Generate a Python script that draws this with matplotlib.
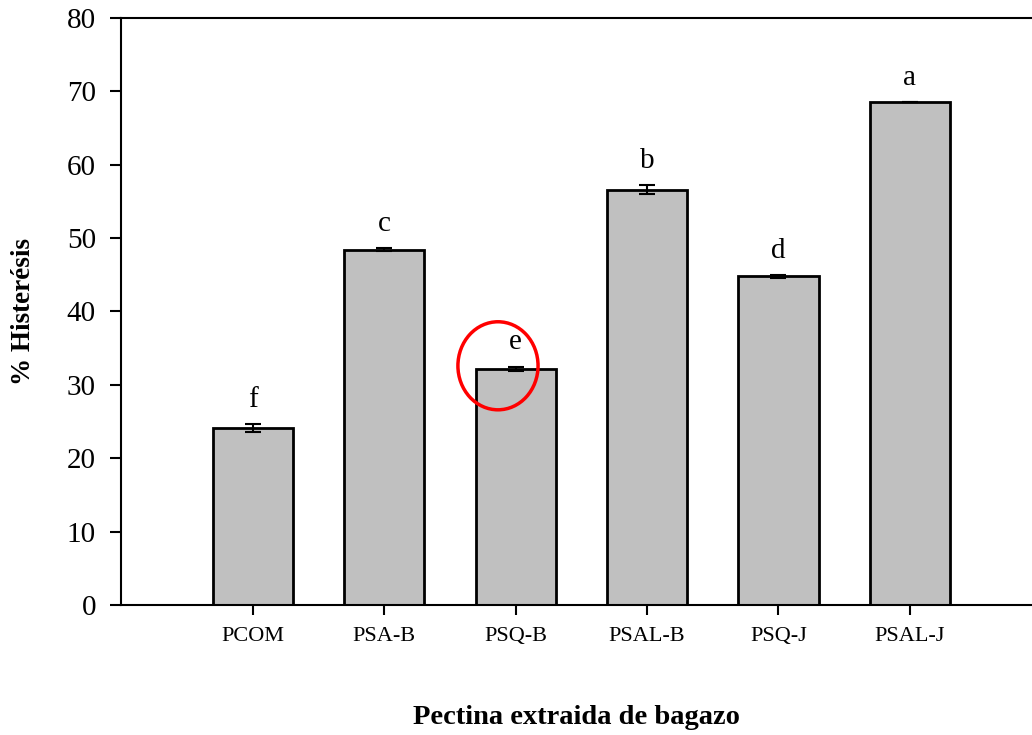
import matplotlib
matplotlib.use("Agg")
import matplotlib.pyplot as plt
from matplotlib.patches import Ellipse

categories = ["PCOM", "PSA-B", "PSQ-B", "PSAL-B", "PSQ-J", "PSAL-J"]
histeresis = [24.1, 48.4, 32.2, 56.6, 44.8, 68.55]
errors = [0.55, 0.2, 0.3, 0.6, 0.2, 0.05]
letters = ["f", "c", "e", "b", "d", "a"]

plt.rcParams["font.family"] = ["Liberation Serif", "DejaVu Serif"]

fig = plt.figure(figsize=(10.32, 7.35), dpi=100)
ax = fig.add_axes([0.1172, 0.1769, 0.8828, 0.7986])

x = list(range(len(categories)))
ax.bar(x, histeresis, width=0.61, color="#c0c0c0", edgecolor="black",
       linewidth=2, zorder=2)
ax.errorbar(x, histeresis, yerr=errors, fmt="none", ecolor="black",
            elinewidth=1.5, capsize=6, capthick=1.5, zorder=3)

for xi, v, e, lab in zip(x, histeresis, errors, letters):
    ax.annotate(lab, (xi, v + e), xytext=(0, 8), textcoords="offset points",
                ha="center", va="bottom", fontsize=21)

# highlight around the PSQ-B result
ax.add_patch(Ellipse((1.865, 32.6), 0.61, 12.0, fill=False,
                     edgecolor="red", linewidth=2.5, zorder=4))

ax.set_xlim(-1.005, 5.93)
ax.set_ylim(0, 80)
ax.set_yticks(range(0, 81, 10))
ax.set_xticks(x)
ax.set_xticklabels(categories, fontsize=16)
ax.tick_params(axis="y", labelsize=21, direction="out", length=8, width=1.5,
               pad=10)
ax.tick_params(axis="x", direction="out", length=7, width=1.5, pad=9)

for side in ["left", "bottom", "top"]:
    ax.spines[side].set_linewidth(1.5)
ax.spines["right"].set_visible(False)

ax.set_ylabel("% Histerésis", fontsize=19.5, fontweight="bold", labelpad=22)
ax.set_xlabel("Pectina extraida de bagazo", fontsize=20.5, fontweight="bold",
              labelpad=42)

fig.savefig("out.png", dpi=100)
